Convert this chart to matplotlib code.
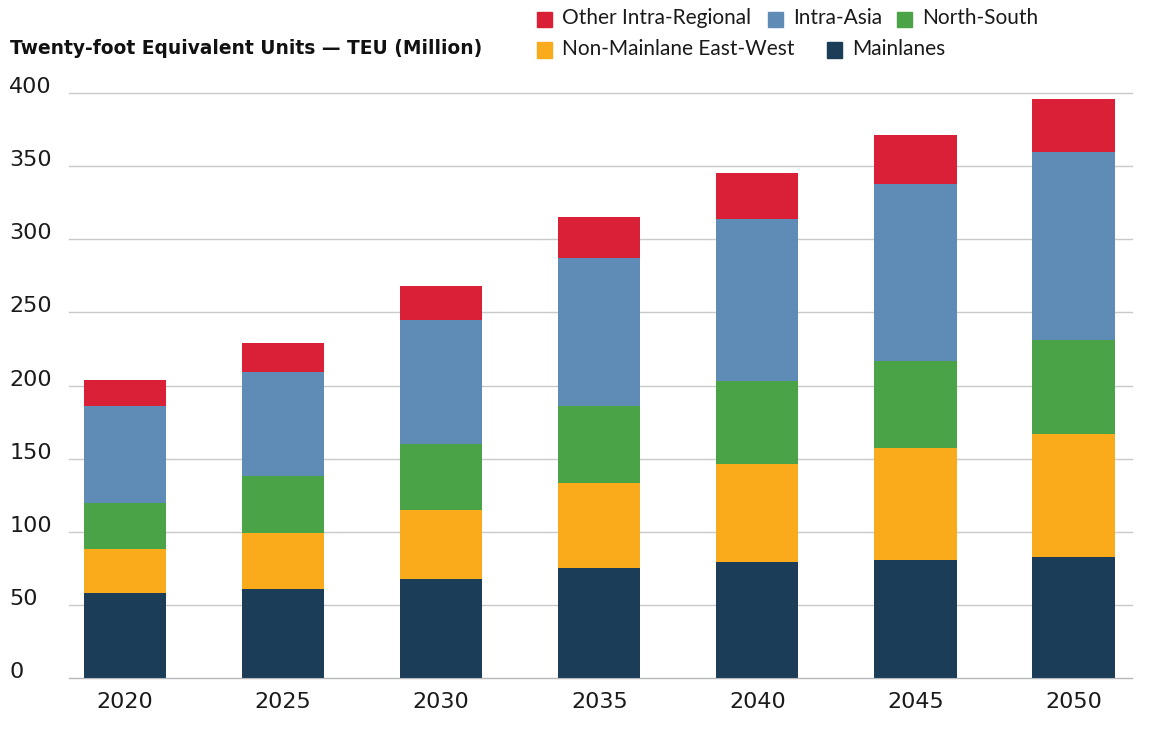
import matplotlib.pyplot as plt
from matplotlib.patches import Rectangle
import numpy as np

plt.rcParams['font.family'] = ['DejaVu Sans']

years = ['2020', '2025', '2030', '2035', '2040', '2045', '2050']
mainlanes = [58, 61, 68, 75, 79, 81, 83]
non_mainlane = [30, 38, 47, 58, 67, 76, 84]
north_south = [32, 39, 45, 53, 57, 60, 64]
intra_asia = [66, 71, 85, 101, 111, 121, 129]
other_intra = [18, 20, 23, 28, 31, 33, 36]

series = [
    ('Mainlanes', mainlanes, '#1b3d58'),
    ('Non-Mainlane East-West', non_mainlane, '#f9ab1b'),
    ('North-South', north_south, '#4aa346'),
    ('Intra-Asia', intra_asia, '#5f8cb7'),
    ('Other Intra-Regional', other_intra, '#da2036'),
]

W, H = 1153, 738
fig = plt.figure(figsize=(W / 100, H / 100), dpi=100)
ax = fig.add_axes([69 / W, 1 - 678 / H, (1132 - 69) / W, (678 - 93) / H])

x = np.arange(len(years))
bottom = np.zeros(len(years))
for name, vals, col in series:
    ax.bar(x, vals, width=0.52, bottom=bottom, color=col, zorder=3)
    bottom += np.array(vals)

ax.set_xlim(-0.355, 6.37)
ax.set_ylim(0, 400)
ax.set_yticks(range(0, 401, 50))
ax.set_xticks(x)
ax.set_xticklabels(years)
ax.grid(axis='y', color='#c9c9c9', linewidth=1, zorder=0, clip_on=False)
for s in ['top', 'right', 'left']:
    ax.spines[s].set_visible(False)
ax.spines['bottom'].set_color('#b5b9be')
ax.spines['bottom'].set_zorder(4)
ax.tick_params(axis='both', length=0, labelsize=16, colors='#1a1a1a')
ax.tick_params(axis='x', pad=10)
ax.tick_params(axis='y', pad=43)
for lab in ax.get_yticklabels():
    lab.set_horizontalalignment('left')
    lab.set_verticalalignment('baseline')

fig.text(10 / W, 1 - 48 / H, 'Twenty-foot Equivalent Units \u2014 TEU (Million)',
         fontsize=13.4, fontweight='bold', va='center', ha='left', color='#111111')

# legend drawn by hand in two rows
legend_items = [
    ('Other Intra-Regional', '#da2036', 537, 19),
    ('Intra-Asia', '#5f8cb7', 768, 19),
    ('North-South', '#4aa346', 897, 19),
    ('Non-Mainlane East-West', '#f9ab1b', 537, 50),
    ('Mainlanes', '#1b3d58', 827, 50),
]
for label, col, px, py in legend_items:
    fig.patches.append(Rectangle((px / W, 1 - (py + 7.5) / H), 15 / W, 15 / H,
                                 transform=fig.transFigure, color=col))
    fig.text((px + 25) / W, 1 - (py - 1) / H, label, fontsize=15, va='center',
             ha='left', color='#1a1a1a', family='Lato')

plt.savefig('out.png', dpi=100)
